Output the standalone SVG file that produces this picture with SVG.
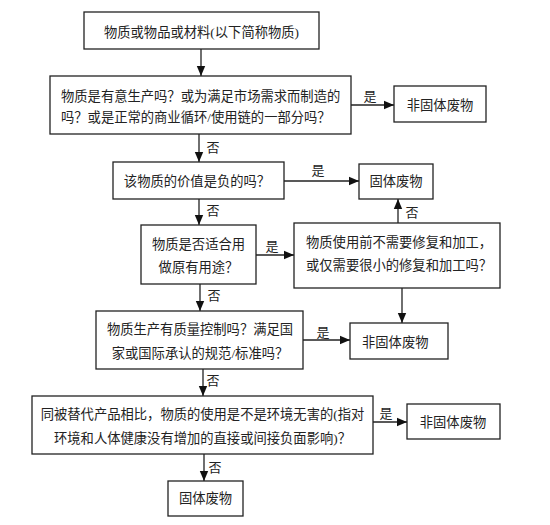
<svg xmlns="http://www.w3.org/2000/svg" width="550" height="525" viewBox="0 0 550 525">
<style>
.box{fill:#fff;stroke:#222;stroke-width:1.3}
.t{font-family:"Liberation Serif","Noto Sans CJK SC",serif;font-size:13.3px;fill:#222}
.m{text-anchor:middle}
.lab{font-family:"Liberation Serif","Noto Sans CJK SC",serif;font-size:13px;fill:#222;text-anchor:middle}
.c{stroke:#222;stroke-width:1.3;fill:none;marker-end:url(#ah)}
</style>
<defs>
<marker id="ah" markerUnits="userSpaceOnUse" markerWidth="10" markerHeight="10" viewBox="0 0 10 10" refX="10" refY="5" orient="auto">
<path d="M0,0.8 L10,5 L0,9.2 Z" fill="#111"/>
</marker>
</defs>
<rect width="550" height="525" fill="#fff"/>
<g id="connectors">
<line class="c" x1="201" y1="49" x2="201" y2="76"/>
<line class="c" x1="351" y1="105" x2="394" y2="105"/>
<line class="c" x1="199" y1="134" x2="199" y2="162"/>
<line class="c" x1="284" y1="181" x2="359" y2="181"/>
<line class="c" x1="199" y1="199" x2="199" y2="225"/>
<line class="c" x1="256" y1="255" x2="294" y2="255"/>
<line class="c" x1="398" y1="223" x2="398" y2="199"/>
<line class="c" x1="402" y1="288" x2="402" y2="323"/>
<line class="c" x1="200" y1="284" x2="200" y2="311"/>
<line class="c" x1="303" y1="340" x2="350" y2="340"/>
<line class="c" x1="203" y1="369" x2="203" y2="396"/>
<line class="c" x1="373" y1="422" x2="407" y2="422"/>
<line class="c" x1="204" y1="454" x2="204" y2="481"/>
<text class="lab" x="370" y="101">是</text>
<text class="lab" x="213" y="152">否</text>
<text class="lab" x="318" y="175">是</text>
<text class="lab" x="213" y="215">否</text>
<text class="lab" x="272" y="251">是</text>
<text class="lab" x="412" y="217">否</text>
<text class="lab" x="214" y="300">否</text>
<text class="lab" x="323" y="337">是</text>
<text class="lab" x="213" y="385">否</text>
<text class="lab" x="386" y="418">是</text>
<text class="lab" x="215" y="472">否</text>
</g>
<g id="n1">
<rect class="box" x="84" y="12" width="235" height="37"/>
<text class="t m" x="201.5" y="37">物质或物品或材料(以下简称物质)</text>
</g>
<g id="n2">
<rect class="box" x="50" y="76" width="301" height="58"/>
<text class="t" x="61" y="101">物质是有意生产吗？或为满足市场需求而制造的</text>
<text class="t" x="61" y="122">吗？或是正常的商业循环/使用链的一部分吗？</text>
</g>
<g id="n3">
<rect class="box" x="394" y="86" width="92" height="36"/>
<text class="t m" x="440" y="110">非固体废物</text>
</g>
<g id="n4">
<rect class="box" x="113" y="162" width="171" height="37"/>
<text class="t m" x="197" y="186">该物质的价值是负的吗？</text>
</g>
<g id="n5">
<rect class="box" x="359" y="164" width="74" height="35"/>
<text class="t m" x="396" y="186">固体废物</text>
</g>
<g id="n6">
<rect class="box" x="141" y="225" width="115" height="59"/>
<text class="t m" x="198.5" y="249">物质是否适合用</text>
<text class="t m" x="198.5" y="272">做原有用途？</text>
</g>
<g id="n7">
<rect class="box" x="294" y="223" width="206" height="65"/>
<text class="t" x="306" y="247">物质使用前不需要修复和加工，</text>
<text class="t" x="306" y="270">或仅需要很小的修复和加工吗？</text>
</g>
<g id="n8">
<rect class="box" x="96" y="311" width="207" height="58"/>
<text class="t m" x="200" y="334">物质生产有质量控制吗？满足国</text>
<text class="t m" x="200" y="358">家或国际承认的规范/标准吗？</text>
</g>
<g id="n9">
<rect class="box" x="350" y="323" width="98" height="36"/>
<text class="t" x="362" y="347">非固体废物</text>
</g>
<g id="n10">
<rect class="box" x="32" y="396" width="341" height="58"/>
<text class="t m" x="202.5" y="419">同被替代产品相比，物质的使用是不是环境无害的(指对</text>
<text class="t m" x="202.5" y="443">环境和人体健康没有增加的直接或间接负面影响)？</text>
</g>
<g id="n11">
<rect class="box" x="407" y="404" width="93" height="35"/>
<text class="t m" x="453" y="427">非固体废物</text>
</g>
<g id="n12">
<rect class="box" x="168" y="481" width="75" height="35"/>
<text class="t m" x="205.5" y="503">固体废物</text>
</g>
</svg>
